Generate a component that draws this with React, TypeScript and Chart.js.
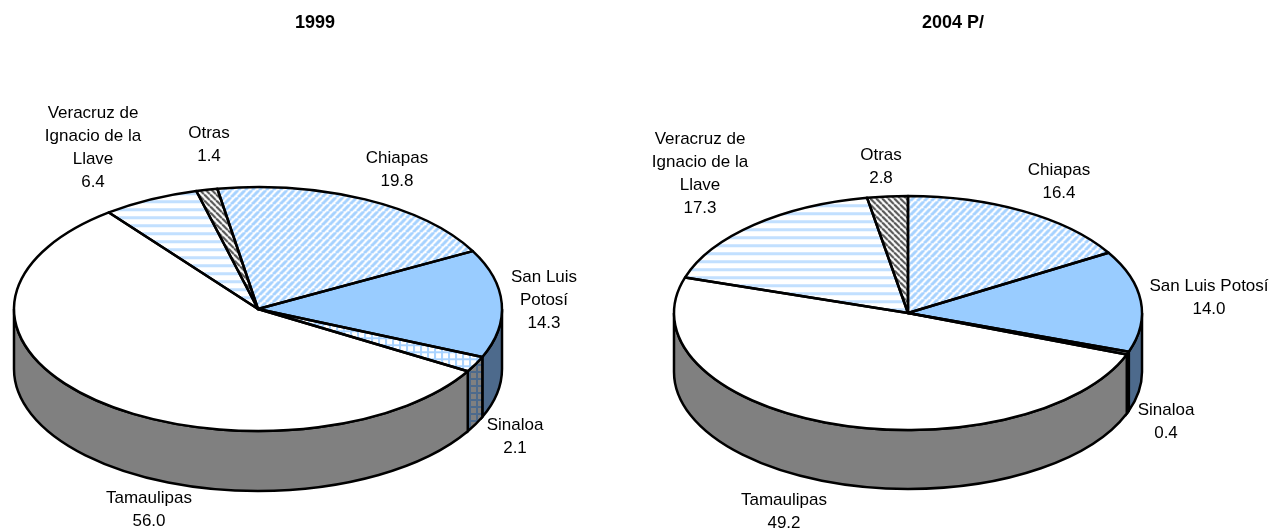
import { useEffect, useRef } from "react";
import { Chart, registerables } from "chart.js";

Chart.register(...registerables);

// ---- data ----
const categories1999: string[][] = [
  ["Chiapas"], ["San Luis", "Potosí"], ["Sinaloa"], ["Tamaulipas"],
  ["Veracruz de", "Ignacio de la", "Llave"], ["Otras"],
];
const categories2004: string[][] = [
  ["Chiapas"], ["San Luis Potosí"], ["Sinaloa"], ["Tamaulipas"],
  ["Veracruz de", "Ignacio de la", "Llave"], ["Otras"],
];
const values1999 = [19.8, 14.3, 2.1, 56.0, 6.4, 1.4];
const values2004 = [16.4, 14.0, 0.4, 49.2, 17.3, 2.8];
const title1999 = "1999";
const title2004 = "2004 P/";

// ---- layout and styles ----
const FONT = '"Liberation Sans", Arial, sans-serif';
const LINE = 23;
const STROKE = 2.5;
const anchors1999: [number, number][] = [[397, 158], [544, 277], [515, 425], [149, 498], [93, 113], [209, 133]];
const anchors2004: [number, number][] = [[1059, 170], [1209, 286], [1166, 410], [784, 500], [700, 139], [881, 155]];

function tile(size: number, draw: (c: CanvasRenderingContext2D) => void, ratio: number) {
  const cv = document.createElement("canvas");
  cv.width = size;
  cv.height = size;
  const c = cv.getContext("2d")!;
  draw(c);
  const p = document.createElement("canvas").getContext("2d")!.createPattern(cv, "repeat")!;
  p.setTransform(new DOMMatrix().scale(1, 1 / ratio));
  return p;
}
function diag(c: CanvasRenderingContext2D, s: number, bg: string, fg: string, w: number, down: boolean) {
  c.fillStyle = bg;
  c.fillRect(0, 0, s, s);
  c.strokeStyle = fg;
  c.lineWidth = w;
  for (let k = -1; k <= 1; k++) {
    c.beginPath();
    if (down) { c.moveTo(k * s, 0); c.lineTo(k * s + s, s); }
    else { c.moveTo(k * s, s); c.lineTo(k * s + s, 0); }
    c.stroke();
  }
}
function grid(c: CanvasRenderingContext2D, s: number, bg: string, fg: string) {
  c.fillStyle = bg;
  c.fillRect(0, 0, s, s);
  c.fillStyle = fg;
  c.fillRect(0, 0, s, 2);
  c.fillRect(0, 0, 2, s);
}
function makeFills(r: number) {
  return [
    tile(7, (c) => diag(c, 7, "#ffffff", "#a6d2ff", 3, false), r),
    "#99ccff",
    tile(7, (c) => grid(c, 7, "#ffffff", "#a9d3ff"), r),
    "#ffffff",
    tile(8, (c) => { c.fillStyle = "#fff"; c.fillRect(0, 0, 8, 8); c.fillStyle = "#c2e0ff"; c.fillRect(0, 0, 8, 3); }, r),
    tile(6, (c) => diag(c, 6, "#ffffff", "#555555", 2.2, true), r),
  ];
}
function makeWalls() {
  return [
    "#4d6a8c",
    "#4d6a8c",
    tile(7, (c) => grid(c, 7, "#808080", "#4d6a8c"), 1),
    "#808080",
    "#808080",
    "#808080",
  ];
}

function front(a0: number, a1: number): [number, number][] {
  const out: [number, number][] = [];
  for (const k of [-2, 0, 2]) {
    const s = Math.max(a0, k * Math.PI);
    const e = Math.min(a1, k * Math.PI + Math.PI);
    if (e > s) out.push([s, e]);
  }
  return out;
}

type PieProps = {
  left: number; width: number; cx: number; cy: number; r: number; ratio: number; depth: number; titleX: number;
  rotation: number; title: string; cats: string[][]; vals: number[]; anchors: [number, number][];
};

function Pie3D({ left, width, cx, cy, r, ratio, depth, titleX, rotation, title, cats, vals, anchors }: PieProps) {
  const ref = useRef<HTMLCanvasElement>(null);
  useEffect(() => {
    const ctxEl = ref.current!;
    const walls = makeWalls();
    const localCx = cx - left;
    const pseudo = {
      id: "pseudo3d",
      beforeDatasetsDraw(chart: any) {
        const ctx = chart.ctx as CanvasRenderingContext2D;
        const arcs = chart.getDatasetMeta(0).data as any[];
        const ry = r * ratio;
        ctx.save();
        ctx.lineWidth = STROKE;
        ctx.strokeStyle = "#000";
        arcs.forEach((arc, i) => {
          const { startAngle, endAngle } = arc.getProps(["startAngle", "endAngle"], true);
          for (const [s, e] of front(startAngle, endAngle)) {
            ctx.beginPath();
            ctx.ellipse(localCx, cy, r, ry, 0, s, e);
            ctx.ellipse(localCx, cy + depth, r, ry, 0, e, s, true);
            ctx.closePath();
            ctx.fillStyle = walls[i] as any;
            ctx.fill();
            ctx.stroke();
          }
        });
        ctx.restore();
        const y0 = (chart.chartArea.top + chart.chartArea.bottom) / 2;
        ctx.save();
        ctx.translate(0, cy);
        ctx.scale(1, ratio);
        ctx.translate(0, -y0);
      },
      afterDatasetsDraw(chart: any) {
        const ctx = chart.ctx as CanvasRenderingContext2D;
        ctx.restore();
        const arcs = chart.getDatasetMeta(0).data as any[];
        ctx.save();
        ctx.lineWidth = STROKE;
        ctx.strokeStyle = "#000";
        ctx.lineJoin = "round";
        arcs.forEach((arc) => {
          const { startAngle, endAngle } = arc.getProps(["startAngle", "endAngle"], true);
          ctx.beginPath();
          ctx.moveTo(localCx, cy);
          ctx.ellipse(localCx, cy, r, r * ratio, 0, startAngle, endAngle);
          ctx.closePath();
          ctx.stroke();
        });
        ctx.restore();
      },
      afterDraw(chart: any) {
        const ctx = chart.ctx as CanvasRenderingContext2D;
        const labels = chart.data.labels as string[][];
        const data = chart.data.datasets[0].data as number[];
        ctx.save();
        ctx.fillStyle = "#000";
        ctx.textAlign = "center";
        ctx.textBaseline = "middle";
        ctx.font = `bold 18px ${FONT}`;
        ctx.fillText(title, titleX - left, 23);
        ctx.font = `17px ${FONT}`;
        labels.forEach((lines, i) => {
          const [x, y] = anchors[i];
          [...lines, data[i].toFixed(1)].forEach((t, j) => ctx.fillText(t, x - left, y + j * LINE));
        });
        ctx.restore();
      },
    };
    const chart = new Chart(ctxEl, {
      type: "pie",
      data: {
        labels: cats as any,
        datasets: [{ data: vals, backgroundColor: makeFills(ratio) as any, borderWidth: 0 }],
      },
      options: {
        animation: false,
        responsive: false,
        rotation,
        events: [],
        layout: { padding: { left: localCx - r, right: width - localCx - r, top: 0, bottom: 0 } },
        plugins: {
          legend: { display: false },
          tooltip: { enabled: false },
          title: { display: false, text: title },
        },
      },
      plugins: [pseudo as any],
    });
    return () => chart.destroy();
  }, []);
  return (
    <canvas
      ref={ref}
      width={width}
      height={531}
      style={{ position: "absolute", left, top: 0, width, height: 531, display: "block" }}
    />
  );
}

export default function App() {
  return (
    <div style={{ position: "fixed", left: 0, top: 0, width: 1276, height: 531, overflow: "hidden", background: "#fff" }}>
      <Pie3D left={0} width={630} cx={258} cy={309} r={244} ratio={0.5} depth={60} titleX={315} rotation={-9.6} title={title1999} cats={categories1999} vals={values1999} anchors={anchors1999} />
      <Pie3D left={630} width={646} cx={908} cy={313} r={234} ratio={0.5} depth={59} titleX={953} rotation={0} title={title2004} cats={categories2004} vals={values2004} anchors={anchors2004} />
    </div>
  );
}
